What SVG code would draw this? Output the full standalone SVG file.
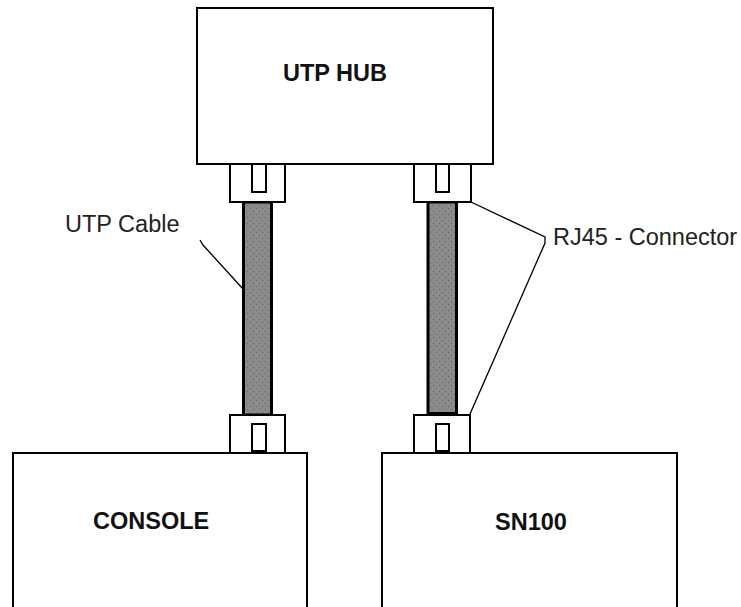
<svg xmlns="http://www.w3.org/2000/svg" width="741" height="607" viewBox="0 0 741 607">
<defs>
<pattern id="stipple" width="6" height="6" patternUnits="userSpaceOnUse">
<rect width="6" height="6" fill="#8a8a8a"/>
<rect x="1" y="1" width="1" height="1" fill="#666"/>
<rect x="4" y="4" width="1" height="1" fill="#666"/>
<rect x="4" y="1" width="1" height="1" fill="#7fa07f"/>
</pattern>
<style>
.box{fill:#fff;stroke:#000;stroke-width:2}
.conn{fill:#fff;stroke:#000;stroke-width:2}
.cable{fill:url(#stipple);stroke:#000;stroke-width:3}
.lbl{font-family:"Liberation Sans",Arial,sans-serif;font-size:23.5px;fill:#222}
.bold{font-weight:bold;fill:#111}
.lead{fill:none;stroke:#000;stroke-width:1.3}
</style>
</defs>
<rect width="741" height="607" fill="#fff"/>
<g id="connectors">
<rect class="cable" x="243.5" y="202" width="28" height="213"/>
<rect class="cable" x="428" y="202" width="28.5" height="212"/>
<line x1="428" y1="413.5" x2="456.5" y2="413.5" stroke="#000" stroke-width="3"/>
</g>
<g id="hub">
<rect class="box" x="197" y="8" width="296" height="156"/>
<text class="lbl bold" x="283" y="81">UTP HUB</text>
</g>
<g id="console">
<rect class="box" x="13" y="453" width="294" height="170"/>
<text class="lbl bold" x="93" y="529">CONSOLE</text>
</g>
<g id="sn100">
<rect class="box" x="382" y="453" width="295" height="170"/>
<text class="lbl bold" x="495" y="530">SN100</text>
</g>
<g id="rj45-hub-left">
<rect class="conn" x="230" y="164" width="55" height="38"/>
<rect class="conn" x="252" y="164" width="14" height="28"/>
</g>
<g id="rj45-hub-right">
<rect class="conn" x="414" y="164" width="57" height="38"/>
<rect class="conn" x="436" y="164" width="13" height="28"/>
</g>
<g id="rj45-console">
<rect class="conn" x="230" y="415" width="55" height="38"/>
<rect class="conn" x="252" y="424" width="14" height="29"/>
<line x1="252" y1="451.5" x2="266" y2="451.5" stroke="#000" stroke-width="3"/>
</g>
<g id="rj45-sn100">
<rect class="conn" x="414" y="415" width="56" height="38"/>
<rect class="conn" x="436" y="424" width="13" height="29"/>
<line x1="436" y1="451.5" x2="449" y2="451.5" stroke="#000" stroke-width="3"/>
</g>
<g id="labels">
<text class="lbl" x="65" y="232">UTP Cable</text>
<polyline class="lead" points="200,240 203,245 243,289"/>
<text class="lbl" x="553" y="245">RJ45 - Connector</text>
<polyline class="lead" points="471,202 545,237 545,243 470,414"/>
</g>
</svg>
